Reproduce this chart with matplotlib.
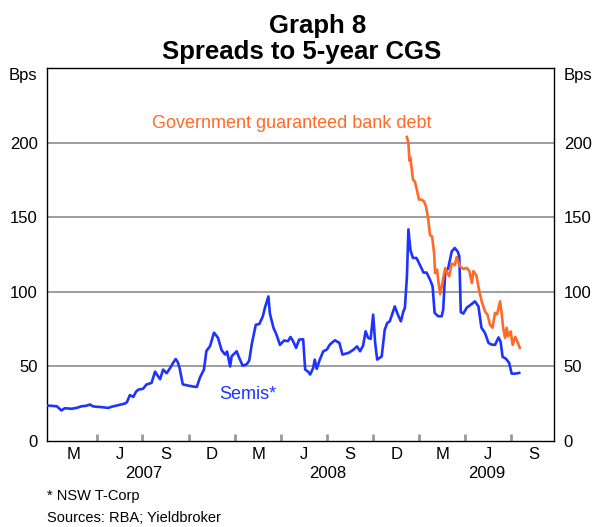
import matplotlib
matplotlib.use("Agg")
import matplotlib.pyplot as plt
import matplotlib.dates as mdates
import matplotlib.transforms as mtransforms
import pandas as pd

plt.rcParams['font.family'] = ['Liberation Sans', 'DejaVu Sans']

# ---------------- data ----------------
semis_dates = [
    "2006-12-24", "2007-01-04", "2007-01-12", "2007-01-21", "2007-01-28", "2007-02-10",
    "2007-02-21", "2007-03-02", "2007-03-11", "2007-03-19", "2007-03-23", "2007-03-29",
    "2007-04-09", "2007-04-24", "2007-05-01", "2007-05-11", "2007-05-19", "2007-05-27",
    "2007-05-31", "2007-06-06", "2007-06-13", "2007-06-18", "2007-06-23", "2007-07-02",
    "2007-07-09", "2007-07-19", "2007-07-26", "2007-08-01", "2007-08-05", "2007-08-11",
    "2007-08-18", "2007-08-25", "2007-08-30", "2007-09-05", "2007-09-09", "2007-09-13",
    "2007-09-19", "2007-09-25", "2007-10-03", "2007-10-10", "2007-10-17", "2007-10-23",
    "2007-10-31", "2007-11-05", "2007-11-12", "2007-11-20", "2007-11-28", "2007-12-05",
    "2007-12-12", "2007-12-16", "2007-12-22", "2007-12-25", "2008-01-04", "2008-01-09",
    "2008-01-16", "2008-01-24", "2008-01-29", "2008-02-03", "2008-02-11", "2008-02-18",
    "2008-02-25", "2008-02-29", "2008-03-07", "2008-03-10", "2008-03-17", "2008-03-23",
    "2008-03-30", "2008-04-07", "2008-04-15", "2008-04-20", "2008-04-25", "2008-05-01",
    "2008-05-07", "2008-05-15", "2008-05-19", "2008-05-25", "2008-05-29", "2008-06-04",
    "2008-06-07", "2008-06-11", "2008-06-17", "2008-06-24", "2008-07-01", "2008-07-07",
    "2008-07-17", "2008-07-26", "2008-08-01", "2008-08-13", "2008-08-23", "2008-08-30",
    "2008-09-05", "2008-09-11", "2008-09-16", "2008-09-21", "2008-09-26", "2008-10-01",
    "2008-10-05", "2008-10-09", "2008-10-18", "2008-10-24", "2008-10-29", "2008-11-03",
    "2008-11-09", "2008-11-13", "2008-11-19", "2008-11-25", "2008-11-30", "2008-12-03",
    "2008-12-07", "2008-12-10", "2008-12-14", "2008-12-19", "2008-12-26", "2009-01-02",
    "2009-01-09", "2009-01-15", "2009-01-22", "2009-01-27", "2009-01-31", "2009-02-07",
    "2009-02-14", "2009-02-17", "2009-02-21", "2009-02-27", "2009-03-06", "2009-03-12",
    "2009-03-18", "2009-03-21", "2009-03-24", "2009-03-29", "2009-04-05", "2009-04-15",
    "2009-04-21", "2009-04-28", "2009-05-04", "2009-05-11", "2009-05-18", "2009-05-24",
    "2009-05-31", "2009-06-07", "2009-06-11", "2009-06-15", "2009-06-22", "2009-06-28",
    "2009-07-03", "2009-07-10", "2009-07-18",
]
semis_values = [
    23.8, 23.5, 23.3, 20.5, 22.0, 21.6,
    22.3, 23.3, 23.6, 24.5, 23.5, 23.0,
    22.8, 22.2, 23.0, 23.8, 24.5, 25.1,
    26.0, 30.8, 29.6, 33.0, 34.5, 35.0,
    37.9, 39.0, 46.5, 43.4, 41.5, 47.9,
    45.5, 49.0, 52.0, 55.0, 53.0, 48.5,
    38.0, 37.5, 37.0, 36.5, 36.3, 42.5,
    47.9, 60.5, 63.5, 72.7, 69.2, 61.0,
    58.0, 60.0, 50.0, 56.8, 60.2, 55.8,
    50.5, 51.5, 54.0, 65.0, 78.0, 78.5,
    83.7, 89.3, 97.0, 85.5, 76.0, 71.4,
    64.5, 67.4, 67.0, 69.8, 67.0, 62.5,
    68.0, 68.3, 48.0, 46.4, 44.6, 49.1,
    54.6, 48.4, 54.6, 60.2, 61.3, 64.7,
    67.6, 65.8, 58.0, 59.1, 61.3, 63.5,
    60.2, 64.0, 73.6, 69.2, 68.5, 84.8,
    65.8, 54.6, 56.8, 74.7, 79.2, 80.3,
    86.3, 90.3, 84.8, 80.3, 87.0, 89.3,
    110.0, 142.0, 128.0, 122.8, 122.8, 118.0,
    113.0, 113.0, 108.2, 103.8, 86.0, 83.7,
    83.7, 88.0, 112.7, 116.0, 127.2, 129.5,
    127.0, 124.0, 86.5, 85.5, 89.5, 92.0,
    93.7, 90.3, 76.0, 72.5, 65.8, 64.7,
    64.5, 69.5, 66.5, 56.5, 55.1, 52.4,
    45.2, 45.2, 45.7,
]

ggbd_dates = [
    "2008-12-07", "2008-12-10", "2008-12-12", "2008-12-14", "2008-12-19", "2008-12-23",
    "2008-12-26", "2008-12-31", "2009-01-05", "2009-01-10", "2009-01-14", "2009-01-18",
    "2009-01-22", "2009-01-26", "2009-01-30", "2009-02-01", "2009-02-05", "2009-02-07",
    "2009-02-11", "2009-02-16", "2009-02-21", "2009-02-25", "2009-03-01", "2009-03-06",
    "2009-03-12", "2009-03-16", "2009-03-22", "2009-03-29", "2009-04-05", "2009-04-10",
    "2009-04-15", "2009-04-18", "2009-04-24", "2009-04-30", "2009-05-05", "2009-05-11",
    "2009-05-16", "2009-05-21", "2009-05-26", "2009-05-31", "2009-06-04", "2009-06-10",
    "2009-06-13", "2009-06-16", "2009-06-20", "2009-06-23", "2009-06-26", "2009-07-01",
    "2009-07-05", "2009-07-10", "2009-07-14", "2009-07-19",
]
ggbd_values = [
    204.0, 200.0, 188.0, 190.0, 175.5, 174.0,
    169.7, 162.0, 162.0, 160.7, 157.4, 149.6,
    138.0, 137.3, 126.0, 112.7, 115.0, 108.2,
    98.5, 107.0, 116.1, 113.0, 110.5, 119.0,
    118.0, 123.5, 117.2, 115.5, 116.1, 114.0,
    106.0, 114.0, 111.0, 100.0, 93.0, 87.0,
    84.8, 78.0, 76.0, 86.0, 85.0, 93.7,
    86.0, 76.0, 69.2, 76.0, 70.3, 73.5,
    64.5, 69.8, 67.0, 62.5,
]

y_ticks = [0, 50, 100, 150, 200]
quarter_letters = ["M", "J", "S", "D"]
years = ["2007", "2008", "2009"]

# ---------------- figure ----------------
BLUE = "#1f33ff"
ORANGE = "#ff6a2a"
GRID = "#8c8c8c"

fig = plt.figure(figsize=(6.03, 5.27), dpi=100)
ax = fig.add_axes([0.0784, 0.1632, 0.8403, 0.7070])

x_start = pd.Timestamp("2006-12-24")
x_end = pd.Timestamp("2009-09-25")

sd = pd.to_datetime(semis_dates)
gd = pd.to_datetime(ggbd_dates)
ax.plot(sd, semis_values, color=BLUE, lw=1.9, solid_joinstyle="round", zorder=3)
ax.plot(gd, ggbd_values, color=ORANGE, lw=1.9, solid_joinstyle="round", zorder=3)

ax.set_xlim(x_start, x_end)
ax.set_ylim(0, 250)

for v in y_ticks[1:]:
    ax.axhline(v, color=GRID, lw=1.2, zorder=1)

ax.set_yticks(y_ticks)
ax.tick_params(axis="y", length=0, labelsize=12, pad=7,
               labelleft=True, labelright=True)
ax.yaxis.set_ticks_position("none")

# quarter tick marks (inside, grey) at quarter boundaries
qb = pd.date_range("2007-04-01", "2009-07-01", freq="QS")
ax.set_xticks(qb)
ax.set_xticklabels([])
ax.tick_params(axis="x", direction="in", length=5, width=2.0, color="#999999",
               bottom=True, top=False)

for sp in ax.spines.values():
    sp.set_color("black")
    sp.set_linewidth(1.0)

trans = mtransforms.blended_transform_factory(ax.transData, ax.transAxes)

# quarter letters centred in each quarter
q_starts = pd.date_range("2007-01-01", "2009-07-01", freq="QS")
for i, qs in enumerate(q_starts):
    qe = qs + pd.offsets.QuarterEnd(0) + pd.Timedelta(days=1)
    mid = qs + (qe - qs) / 2
    ax.text(mid, -0.035, quarter_letters[i % 4], transform=trans,
            ha="center", va="center", fontsize=12)

# year labels centred over the visible part of each year
for y in years:
    ys = max(pd.Timestamp(f"{y}-01-01"), x_start)
    ye = min(pd.Timestamp(f"{int(y)+1}-01-01"), x_end)
    mid = ys + (ye - ys) / 2
    ax.text(mid, -0.086, y, transform=trans, ha="center", va="center", fontsize=12)

# units
ax.text(-0.02, 0.982, "Bps", transform=ax.transAxes, ha="right", va="center", fontsize=12)
ax.text(1.02, 0.982, "Bps", transform=ax.transAxes, ha="left", va="center", fontsize=12)

# series labels
ax.text(0.2066, 0.851, "Government guaranteed bank debt", transform=ax.transAxes,
        ha="left", va="center", fontsize=13, color=ORANGE)
ax.text(0.339, 0.126, "Semis*", transform=ax.transAxes,
        ha="left", va="center", fontsize=13, color=BLUE)

# titles
fig.text(0.527, 0.9374, "Graph 8", ha="center", va="baseline",
         fontsize=18.5, fontweight="bold")
fig.text(0.501, 0.8875, "Spreads to 5-year CGS", ha="center", va="baseline",
         fontsize=18.5, fontweight="bold")

# footnotes
fig.text(0.078, 0.059, "* NSW T-Corp", ha="left", va="center", fontsize=10.5)
fig.text(0.078, 0.017, "Sources: RBA; Yieldbroker", ha="left", va="center", fontsize=10.5)

fig.savefig("out.png", dpi=100)
